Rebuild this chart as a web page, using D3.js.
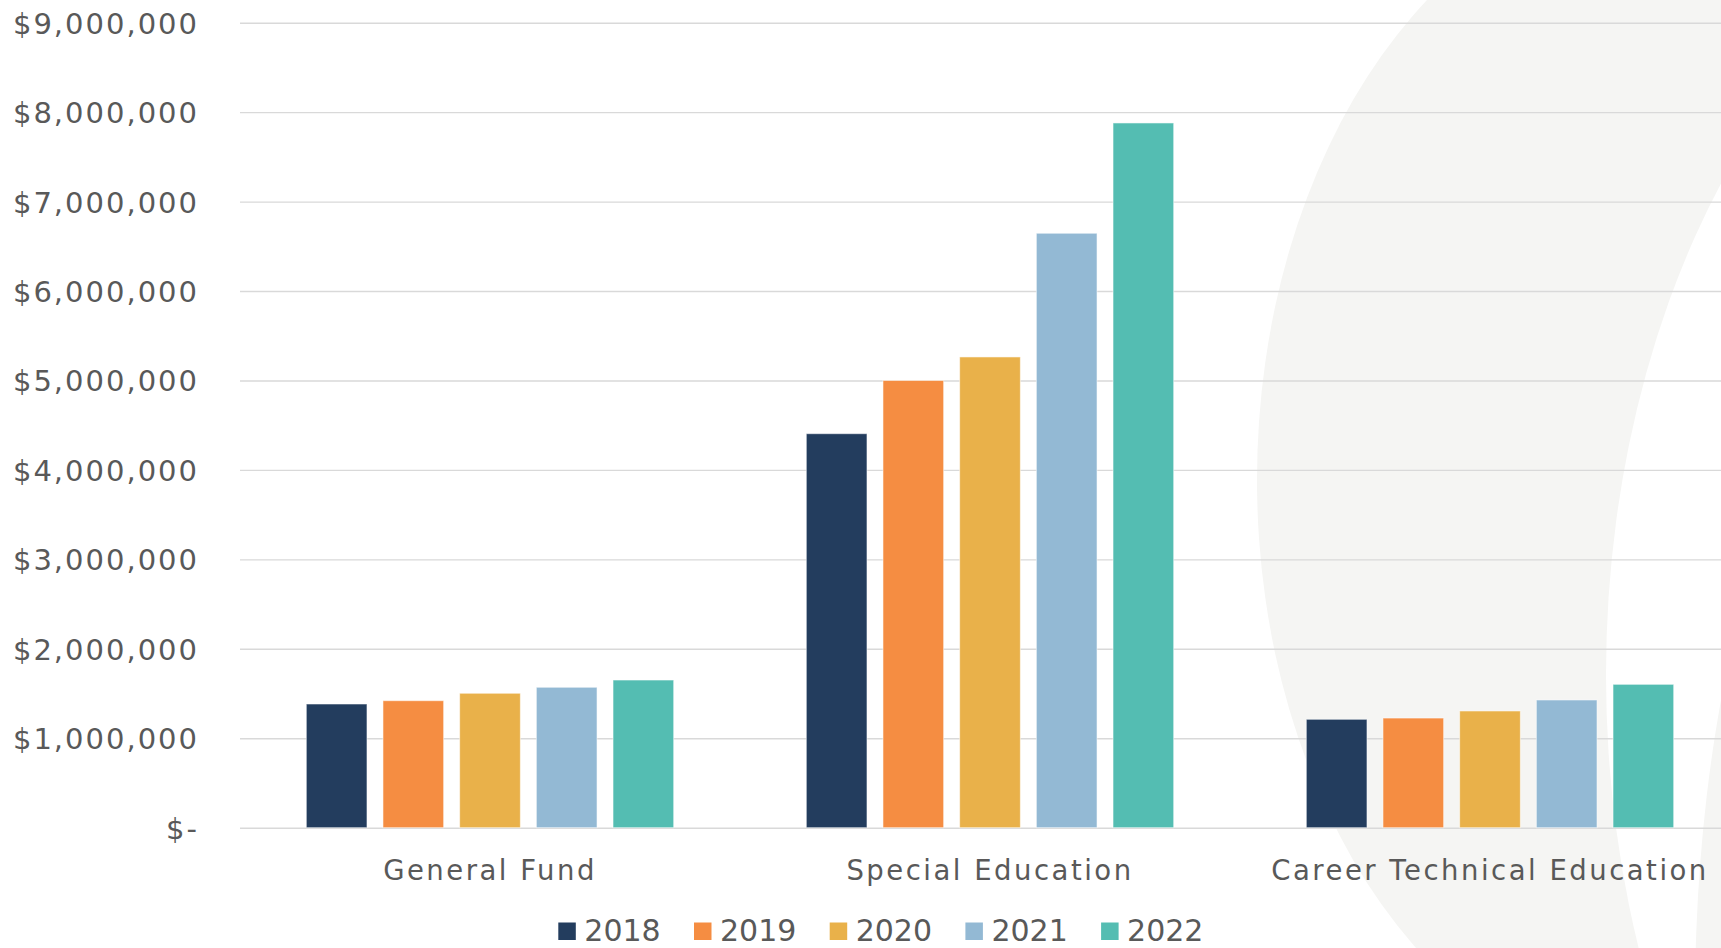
<!DOCTYPE html>
<html>
<head>
<meta charset="utf-8">
<script src="https://cdn.jsdelivr.net/npm/d3@7"></script>
<style>
  html, body { margin: 0; padding: 0; background: #ffffff; overflow: hidden; }
  svg { display: block; }
  text { font-family: "DejaVu Sans", Verdana, sans-serif; fill: #595959; }
</style>
</head>
<body>
<svg id="chart" width="1721" height="948"></svg>
<script>
// ---- data ----
const categories = ["General Fund", "Special Education", "Career Technical Education"];
const years = ["2018", "2019", "2020", "2021", "2022"];
const values2018 = [1383000, 4405000, 1212000];
const values2019 = [1420000, 5000000, 1226000];
const values2020 = [1503000, 5263000, 1305000];
const values2021 = [1570000, 6646000, 1428000];
const values2022 = [1651000, 7879000, 1603000];
const yTicks = [0, 1000000, 2000000, 3000000, 4000000, 5000000, 6000000, 7000000, 8000000, 9000000];
const colors = ["#233D5E", "#F58D42", "#E9B14A", "#93B9D4", "#54BDB2"];

const seriesValues = [values2018, values2019, values2020, values2021, values2022];
const rows = categories.map((c, i) => ({
  category: c,
  values: years.map((yr, j) => ({ year: yr, value: seriesValues[j][i] }))
}));

// ---- layout ----
const svg = d3.select("#chart");
const plotLeft = 240, plotRight = 1740, yZero = 827.7, yTop = 22.7;

const x0 = d3.scaleBand().domain(categories).range([plotLeft, plotRight]).paddingInner(0).paddingOuter(0);
const groupPad = 66.3;
const x1 = d3.scaleBand().domain(years).range([groupPad, x0.bandwidth() - groupPad]).paddingInner(0.2087).paddingOuter(0);
const y = d3.scaleLinear().domain([0, 9000000]).range([yZero, yTop]);
const color = d3.scaleOrdinal().domain(years).range(colors);

// ---- background decoration (soft crescent) ----
const deco = svg.append("g");
deco.append("ellipse").attr("cx", 1682).attr("cy", 480).attr("rx", 425).attr("ry", 600).attr("fill", "#F5F5F3");
deco.append("ellipse").attr("cx", 2136).attr("cy", 675).attr("rx", 530).attr("ry", 790).attr("fill", "#FFFFFF");
deco.append("ellipse").attr("cx", 1965).attr("cy", 1000).attr("rx", 270).attr("ry", 700).attr("fill", "#F5F5F3");

// ---- gridlines ----
svg.append("g")
  .attr("transform", `translate(${plotLeft},0)`)
  .call(d3.axisLeft(y).tickValues(yTicks).tickSize(-(plotRight - plotLeft)).tickFormat(""))
  .call(g => g.select(".domain").remove())
  .call(g => g.selectAll(".tick line").attr("stroke", "#D9D9D9").attr("stroke-width", 1.4));

// ---- y axis labels ----
const fmt = d3.format("$,");
svg.append("g")
  .attr("transform", `translate(${plotLeft},0)`)
  .call(d3.axisLeft(y).tickValues(yTicks).tickSize(0).tickPadding(41)
        .tickFormat(d => d === 0 ? "$-" : fmt(d)))
  .call(g => g.select(".domain").remove())
  .call(g => g.selectAll(".tick text")
    .style("font-family", '"DejaVu Sans", Verdana, sans-serif')
    .style("font-size", "29px")
    .style("letter-spacing", "2px")
    .attr("fill", "#595959")
    .attr("dy", "0.36em"));

// ---- bars ----
const groups = svg.append("g").selectAll("g")
  .data(rows).join("g")
  .attr("transform", d => `translate(${x0(d.category)},0)`);

groups.selectAll("rect")
  .data(d => d.values).join("rect")
  .attr("x", d => x1(d.year))
  .attr("y", d => y(d.value))
  .attr("width", x1.bandwidth())
  .attr("height", d => yZero - y(d.value))
  .attr("fill", d => color(d.year))
  .attr("stroke", "rgba(255,255,255,0.55)")
  .attr("stroke-width", 1);

// ---- category axis ----
svg.append("g")
  .attr("transform", `translate(0,${yZero})`)
  .call(d3.axisBottom(x0).tickSize(0).tickPadding(33))
  .call(g => g.select(".domain").remove())
  .call(g => g.selectAll(".tick text")
    .style("font-family", '"DejaVu Sans", Verdana, sans-serif')
    .style("font-size", "27.5px")
    .style("letter-spacing", "2.5px")
    .attr("fill", "#595959"));

// ---- legend ----
const legend = svg.append("g").attr("transform", "translate(558.3,0)");
const legendStep = 135.7;
const items = legend.selectAll("g").data(years).join("g")
  .attr("transform", (d, i) => `translate(${i * legendStep},0)`);
items.append("rect")
  .attr("x", 0).attr("y", 922.5)
  .attr("width", 17.5).attr("height", 17.5)
  .attr("fill", d => color(d));
items.append("text")
  .attr("x", 26).attr("y", 940.5)
  .style("font-size", "30px")
  .text(d => d);
</script>
</body>
</html>
